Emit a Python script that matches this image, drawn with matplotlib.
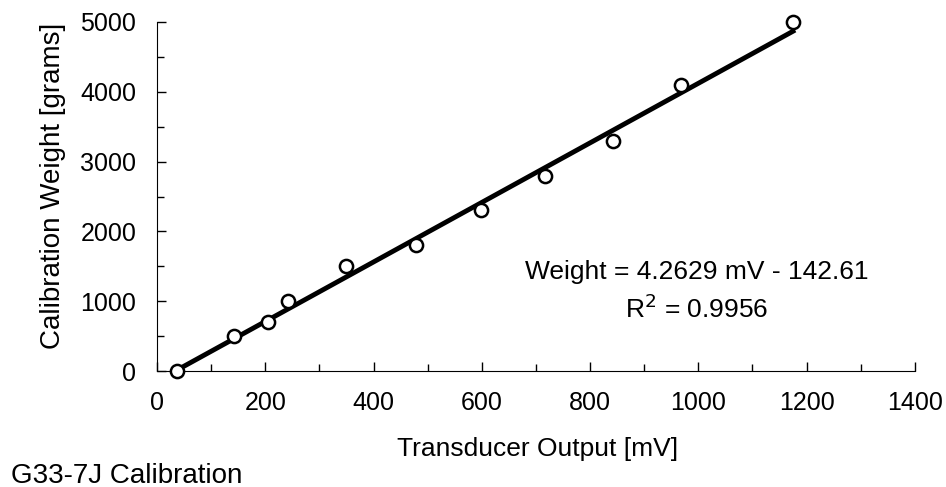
import numpy as np
from matplotlib import pyplot as plt
from matplotlib.ticker import MultipleLocator

plt.rcParams['font.family'] = ['Liberation Sans', 'DejaVu Sans']

# calibration readings
output_mv = [37, 142, 205, 242, 349, 478, 598, 717, 842, 968, 1175]
weight_g = [0, 500, 700, 1000, 1500, 1800, 2300, 2800, 3300, 4100, 5000]

# fit shown on the chart
slope = 4.2629
intercept = -142.61

fig = plt.figure(figsize=(9.46, 4.87), dpi=100)
ax = fig.add_axes([0.166, 0.238, 0.801, 0.717])

fit_x = np.array([min(output_mv), max(output_mv)])
ax.plot(fit_x, slope * fit_x + intercept, color='black', linewidth=3.5, zorder=2)
ax.plot(output_mv, weight_g, linestyle='none', marker='o', markersize=9.5,
        markerfacecolor='white', markeredgecolor='black', markeredgewidth=1.8,
        zorder=3, clip_on=False)

ax.set_xlim(0, 1400)
ax.set_ylim(0, 5000)
ax.xaxis.set_major_locator(MultipleLocator(200))
ax.xaxis.set_minor_locator(MultipleLocator(100))
ax.yaxis.set_major_locator(MultipleLocator(1000))
ax.yaxis.set_minor_locator(MultipleLocator(500))
ax.tick_params(which='both', direction='in', labelsize=18, width=1)
ax.tick_params(which='major', length=6.5)
ax.tick_params(which='minor', length=4.8)
ax.tick_params(axis='x', which='major', pad=14)
ax.tick_params(axis='y', which='major', pad=15)
ax.spines['top'].set_visible(False)
ax.spines['right'].set_visible(False)

ax.set_xlabel('Transducer Output [mV]', fontsize=19)
ax.set_ylabel('Calibration Weight [grams]', fontsize=20)
ax.xaxis.set_label_coords(0.502, -0.188)
ax.yaxis.set_label_coords(-0.120, 0.53)

ax.text(997, 1420, 'Weight = 4.2629 mV - 142.61', fontsize=19, ha='center', va='center')
ax.text(997, 890, r'R$^2$ = 0.9956', fontsize=19, ha='center', va='center')

fig.text(0.012, 0.009, 'G33-7J Calibration', fontsize=20, ha='left', va='baseline')

plt.savefig('out.png', dpi=100)
